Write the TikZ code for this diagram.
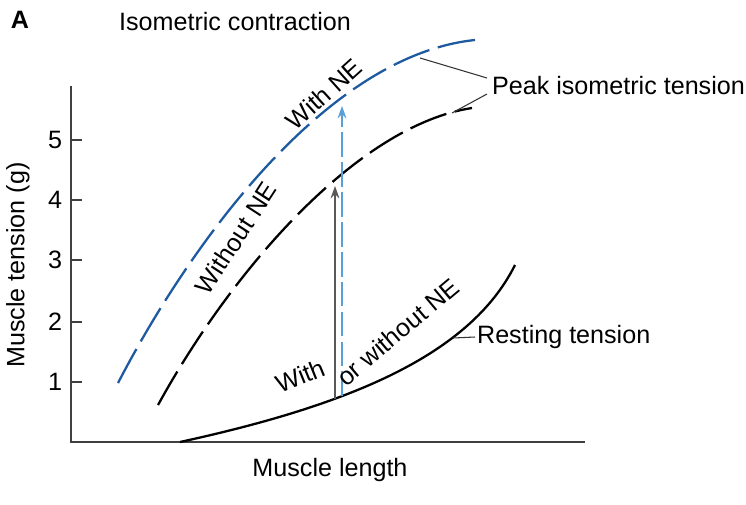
\documentclass[tikz,border=0pt]{standalone}
\usepackage{fontspec}
\setmainfont{Liberation Sans}
\usetikzlibrary{arrows.meta}
\definecolor{nblue}{RGB}{30,90,160}
\definecolor{lblue}{RGB}{90,160,215}
\begin{document}
\begin{tikzpicture}[x=0.02cm,y=-0.02cm,
  lbl/.style={font=\fontsize{14.3}{16}\selectfont,inner sep=1pt},
  axis/.style={line width=0.9pt,draw=black!75},
  longdash/.style={dash pattern=on 22pt off 5pt,line width=1.3pt}]
\useasboundingbox (0,0) rectangle (746,504);
\node[font=\fontsize{14.3}{16}\selectfont\bfseries] (A) at (20,20) {A};
\node[lbl] (title) at (235,22) {Isometric contraction};
\coordinate (O) at (71,442);
\coordinate (ytop) at (71,86);
\coordinate (xend) at (585,442);
\draw[axis] (ytop) -- (O) -- (xend);
\foreach \v/\y in {1/382,2/322,3/260,4/200,5/140}{
  \draw[axis] (71,\y) -- (82,\y);
  \node[lbl] (t\v) at (55,\y) {\v};
}
\node[lbl,rotate=90] (ylab) at (18,265) {Muscle tension (g)};
\node[lbl] (xlab) at (330,470) {Muscle length};
% curves
\coordinate (b0) at (118,383);
\coordinate (b1) at (475,40);
\draw[nblue,longdash] (b0) .. controls (195,235) and (330,55) .. (b1);
\coordinate (k0) at (158,405);
\coordinate (k1) at (472,108);
\draw[black,longdash] (k0) .. controls (235,265) and (360,125) .. (k1);
\coordinate (r0) at (180,442);
\coordinate (r1) at (515,265);
\draw[black,line width=1.3pt] (r0) .. controls (350,405) and (470,355) .. (r1);
% arrows
\coordinate (a0) at (335,399);
\coordinate (a1) at (335,186);
\coordinate (c0) at (342,396);
\coordinate (c1) at (342,106);
\draw[black!65,line width=1pt,-{Stealth[length=7pt,width=5pt]}] (a0) -- (a1);
\draw[lblue,line width=1pt,dash pattern=on 14pt off 3pt,-{Stealth[length=7pt,width=5pt]}] (c0) -- (c1);
% labels on curves
\node[lbl,rotate=42] (wne) at (324,94) {With NE};
\node[lbl,rotate=57] (wone) at (236,238) {Without NE};
\node[lbl,rotate=22] (with) at (300,376) {With};
\node[lbl,rotate=40] (orw) at (398,332) {or without NE};
\node[lbl,anchor=west] (peak) at (490,86) {Peak isometric tension};
\coordinate (pb) at (420,58);
\coordinate (pk) at (452,113);
\draw[black!80,line width=0.6pt] (peak.west) ++(-3,-8) -- (pb);
\draw[black!80,line width=0.6pt] (peak.west) ++(-3,8) -- (pk);
\node[lbl,anchor=west] (rest) at (475,337) {Resting tension};
\coordinate (rc) at (453,338);
\draw[black!80,line width=0.6pt] (rest.west) -- (rc);
\end{tikzpicture}
\end{document}
